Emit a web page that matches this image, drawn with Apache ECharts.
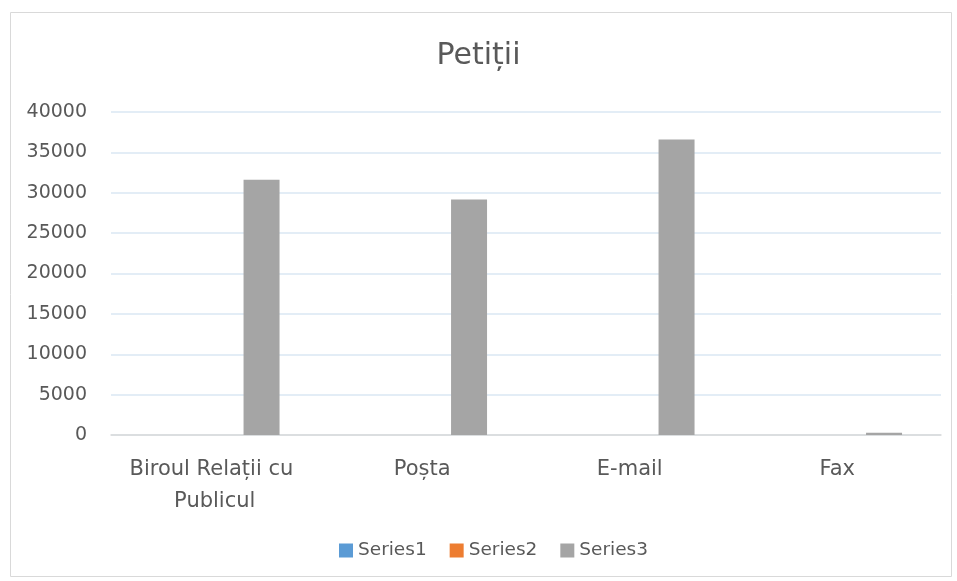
<!DOCTYPE html>
<html><head><meta charset="utf-8">
<script src="https://cdn.jsdelivr.net/npm/echarts@6/dist/echarts.min.js"></script>
<style>html,body{margin:0;padding:0;background:#fff}#c{width:957px;height:581px}</style>
</head><body><div id="c"></div>
<script>
const categories = ['Biroul Relații cu Publicul', 'Poșta', 'E-mail', 'Fax'];
const seriesNames = ['Series1', 'Series2', 'Series3'];
const series1 = [0, 0, 0, 0];
const series2 = [0, 0, 0, 0];
const series3 = [31600, 29150, 36600, 280];
const yTicks = { min: 0, max: 40000, interval: 5000 };
const colors = ['#5b9bd5', '#ed7d31', '#a5a5a5'];

const font = '"DejaVu Sans", sans-serif';
const chart = echarts.init(document.getElementById('c'), null, { renderer: 'canvas' });
chart.setOption({
  animation: false,
  color: colors,
  title: { text: 'Petiții', left: 'center', top: 36,
    textStyle: { fontFamily: font, fontSize: 30, fontWeight: 'normal', color: '#595959' } },
  graphic: [{ type: 'rect', shape: { x: 10.5, y: 12.5, width: 941, height: 564 },
    style: { fill: 'none', stroke: '#d9d9d9', lineWidth: 1 }, silent: true }],
  legend: { bottom: 16, left: 334, itemWidth: 14, itemHeight: 14, itemGap: 23,
    icon: 'rect', textStyle: { fontFamily: font, fontSize: 18.5, color: '#595959' },
    data: seriesNames },
  grid: { left: 111, right: 16, top: 112, bottom: 146 },
  xAxis: { type: 'category', data: categories,
    axisLine: { lineStyle: { color: '#d9d9d9', width: 1.5 } }, axisTick: { show: false },
    axisLabel: { margin: 19, fontFamily: font, fontSize: 21, color: '#595959', lineHeight: 32,
      width: 200, overflow: 'break', interval: 0 } },
  yAxis: { type: 'value', min: yTicks.min, max: yTicks.max, interval: yTicks.interval,
    axisLine: { show: false }, axisTick: { show: false },
    splitLine: { lineStyle: { color: '#dae7f3', width: 1.5 } },
    axisLabel: { margin: 24, fontFamily: font, fontSize: 19, color: '#595959',
      formatter: v => String(v) } },
  series: [
    { name: seriesNames[0], type: 'bar', data: series1, barWidth: 36, barGap: '30%' },
    { name: seriesNames[1], type: 'bar', data: series2, barWidth: 36, barGap: '30%' },
    { name: seriesNames[2], type: 'bar', data: series3, barWidth: 36, barGap: '30%' }
  ]
});
</script></body></html>
